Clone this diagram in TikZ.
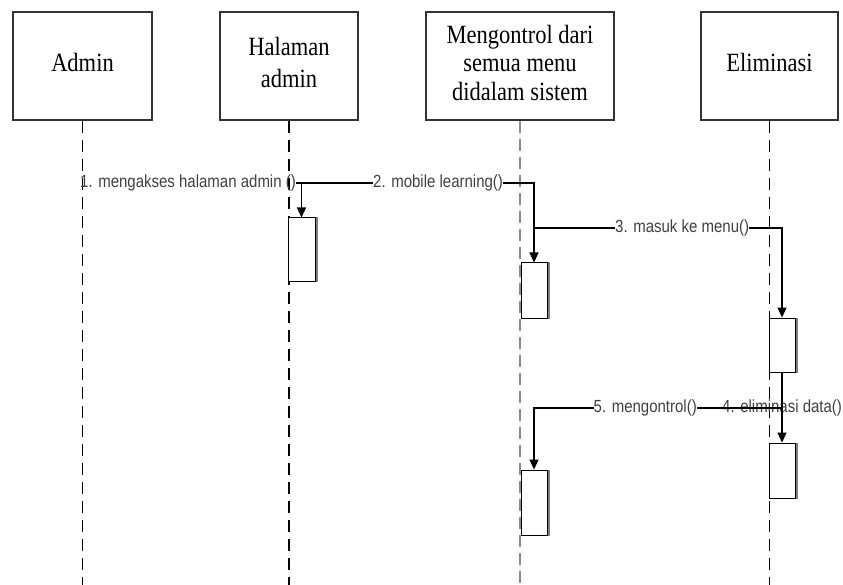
\documentclass[tikz,border=0pt]{standalone}
\usepackage{fontspec}
\setmainfont{Liberation Serif}
\newfontfamily\lblfont{Liberation Sans}
\usetikzlibrary{arrows.meta}
\newcommand{\hdrtext}[1]{\scalebox{1}[1.17]{\fontsize{22.5}{24.4}\selectfont\begin{tabular}{@{}c@{}}#1\end{tabular}}}
\newcommand{\msgtext}[1]{\scalebox{1}[1.17]{\lblfont\fontsize{15}{18}\selectfont #1}}
\begin{document}
\begin{tikzpicture}[x=1pt,y=-1pt,
  hdr/.style={draw=black!80, line width=1.6pt, minimum height=108pt, inner sep=0pt},
  life/.style={draw=black, line width=1.4pt, dash pattern=on 12pt off 7pt},
  lifegray/.style={draw=black!45, line width=2.4pt, dash pattern=on 12pt off 6pt},
  act/.style={draw=black, fill=white, line width=1pt, minimum width=26pt, inner sep=0pt},
  shadowline/.style={draw=black!50, line width=2pt},
  msg/.style={inner sep=0pt, text=black!75},
  msgline/.style={draw=black, line width=1.2pt},
  msgarrow/.style={msgline, -{Triangle[width=9pt,length=10pt]}}]
\useasboundingbox (0,0) rectangle (843,585);
\coordinate (bot) at (0,585);
% headers
\node[hdr, minimum width=139pt] (admin) at (82.5,66) {\hdrtext{Admin}};
\node[hdr, minimum width=138pt] (hal) at (289,66) {\hdrtext{Halaman\\[3pt]admin}};
\node[hdr, minimum width=188pt] (ctrl) at (520,66) {\hdrtext{Mengontrol dari\\semua menu\\didalam sistem}};
\node[hdr, minimum width=137pt] (elim) at (769.5,66) {\hdrtext{Eliminasi}};
% lifelines
\draw[life] (admin.south) -- (admin.south |- bot);
\draw[life] (hal.south) -- (hal.south |- bot);
\draw[lifegray] (ctrl.south) -- (ctrl.south |- bot);
\draw[life] (elim.south) -- (elim.south |- bot);
% activations
\node[act, minimum width=27pt, minimum height=64pt] (a1) at (301.5,250) {};
\node[act, minimum height=55pt] (a2) at (534,290.5) {};
\node[act, minimum height=54pt] (a3) at (782,345) {};
\node[act, minimum height=55pt] (a4) at (782,470.5) {};
\node[act, minimum height=65pt] (a5) at (534,502.5) {};
\foreach \a in {a1,a2,a3,a4,a5}{
  \draw[shadowline] ([xshift=1pt]\a.north east) -- ([xshift=1pt]\a.south east);
}
% message 1
\node[msg, anchor=west] (l1) at (80,183) {\msgtext{1. mengakses halaman admin ()}};
\coordinate (c1) at (a1.north |- l1.east);
\draw[msgarrow] (l1.east) -- (c1) -- (a1.north);
% message 2
\node[msg, anchor=west] (l2) at (373,183) {\msgtext{2. mobile learning()}};
\draw[msgline] (c1) -- (l2.west);
\draw[msgarrow] (l2.east) -- (l2.east -| a2.north) -- (a2.north);
% message 3
\coordinate (y3) at (0,228);
\coordinate (c3) at (a2.north |- y3);
\node[msg, anchor=west] (l3) at (615,228) {\msgtext{3. masuk ke menu()}};
\draw[msgline] (c3) -- (l3.west);
\draw[msgarrow] (l3.east) -- (l3.east -| a3.north) -- (a3.north);
% message 4
\node[msg, anchor=west] (l4) at (722,408) {\msgtext{4. eliminasi data()}};
\draw[msgarrow] (a3.south) -- (a4.north);
% message 5
\node[msg, anchor=east] (l5) at (697,408) {\msgtext{5. mengontrol()}};
\coordinate (c5) at (a4.north |- l5.east);
\draw[msgline] (c5) -- (l5.east);
\draw[msgarrow] (l5.west) -- (l5.west -| a5.north) -- (a5.north);
\end{tikzpicture}
\end{document}
